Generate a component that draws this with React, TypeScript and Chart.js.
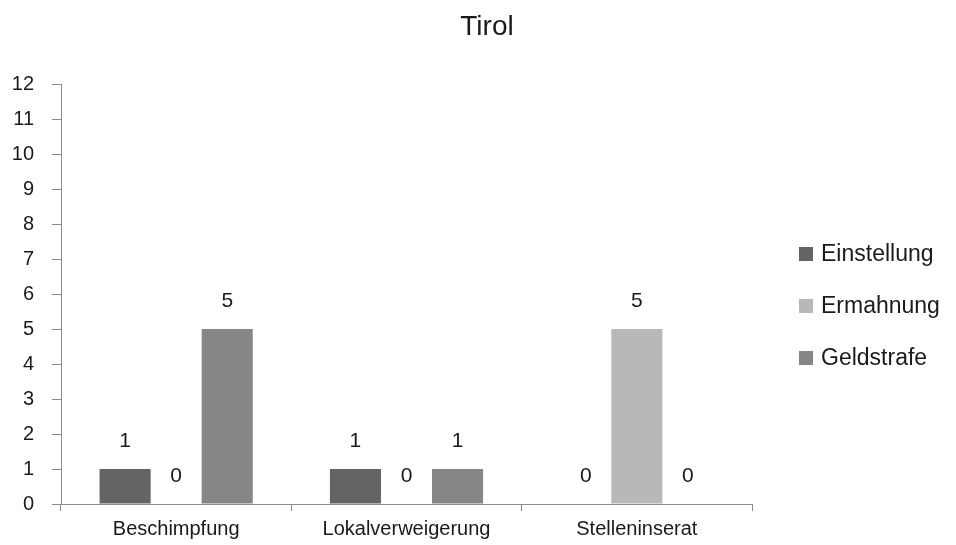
import React, { useEffect, useRef } from "react";
import { Chart, registerables } from "chart.js";

Chart.register(...registerables);

const chartTitle = "Tirol";
const categories = ["Beschimpfung", "Lokalverweigerung", "Stelleninserat"];
const seriesNames = ["Einstellung", "Ermahnung", "Geldstrafe"];
const einstellung = [1, 1, 0];
const ermahnung = [0, 0, 5];
const geldstrafe = [5, 1, 0];
const seriesColors = ["#646464", "#b8b8b8", "#868686"];
const yMin = 0;
const yMax = 12;
const yStep = 1;

const FONT = "'Liberation Sans', Arial, sans-serif";
const TEXT = "#1a1a1a";
const AXIS = "#8a8a8a";

const valueLabels = {
  id: "valueLabels",
  afterDatasetsDraw(chart: any) {
    const ctx = chart.ctx;
    ctx.save();
    ctx.font = `21px ${FONT}`;
    ctx.fillStyle = TEXT;
    ctx.textAlign = "center";
    ctx.textBaseline = "alphabetic";
    chart.data.datasets.forEach((ds: any, i: number) => {
      const meta = chart.getDatasetMeta(i);
      meta.data.forEach((el: any, j: number) => {
        ctx.fillText(String(ds.data[j]), el.x, el.y - 22);
      });
    });
    ctx.restore();
  },
};

const titleAndLegend = {
  id: "titleAndLegend",
  afterDraw(chart: any) {
    const ctx = chart.ctx;
    ctx.save();
    ctx.fillStyle = TEXT;
    ctx.font = `28px ${FONT}`;
    ctx.textAlign = "center";
    ctx.textBaseline = "alphabetic";
    ctx.fillText(chartTitle, chart.width / 2 + 9, 35);

    const area = chart.chartArea;
    const boxX = area.right + 47;
    const box = 14;
    const rowGap = 52;
    const n = chart.data.datasets.length;
    const centerY = (area.top + area.bottom) / 2 + 12;
    ctx.font = `23px ${FONT}`;
    ctx.textAlign = "left";
    ctx.textBaseline = "middle";
    chart.data.datasets.forEach((ds: any, i: number) => {
      const cy = centerY + (i - (n - 1) / 2) * rowGap;
      ctx.fillStyle = ds.backgroundColor;
      ctx.fillRect(boxX, cy - box / 2, box, box);
      ctx.fillStyle = TEXT;
      ctx.fillText(ds.label, boxX + box + 8, cy + 1);
    });
    ctx.restore();
  },
};

export default function App() {
  const ref = useRef<HTMLCanvasElement | null>(null);

  useEffect(() => {
    if (!ref.current) return;
    const seriesData = [einstellung, ermahnung, geldstrafe];
    const chart = new Chart(ref.current, {
      type: "bar",
      data: {
        labels: categories,
        datasets: seriesNames.map((name, i) => ({
          label: name,
          data: seriesData[i],
          backgroundColor: seriesColors[i],
          borderWidth: 0,
          categoryPercentage: 0.665,
          barPercentage: 1,
        })),
      },
      options: {
        responsive: false,
        animation: false,
        layout: { padding: { top: 84, right: 204, left: 0, bottom: 0 } },
        plugins: {
          legend: { display: false },
          title: { display: false },
          tooltip: { enabled: false },
        },
        scales: {
          x: {
            grid: {
              display: true,
              drawOnChartArea: false,
              drawTicks: true,
              tickLength: 7,
              color: AXIS,
              offset: true,
            },
            border: { display: true, color: AXIS, width: 1 },
            ticks: {
              color: TEXT,
              font: { family: FONT, size: 20 },
              padding: 6,
              maxRotation: 0,
            },
            afterFit: (s: any) => {
              s.height = 41;
            },
          },
          y: {
            min: yMin,
            max: yMax,
            grid: {
              display: true,
              drawOnChartArea: false,
              drawTicks: true,
              tickLength: 9,
              color: AXIS,
            },
            border: { display: true, color: AXIS, width: 1 },
            ticks: {
              stepSize: yStep,
              color: TEXT,
              font: { family: FONT, size: 20 },
              padding: 18,
            },
            afterFit: (s: any) => {
              s.width = 61;
            },
          },
        },
      },
      plugins: [valueLabels, titleAndLegend],
    });
    return () => chart.destroy();
  }, []);

  return (
    <div style={{ position: "absolute", left: 0, top: 0, width: 956, height: 545, background: "#fff" }}>
      <canvas ref={ref} width={956} height={545} style={{ display: "block" }} />
    </div>
  );
}
